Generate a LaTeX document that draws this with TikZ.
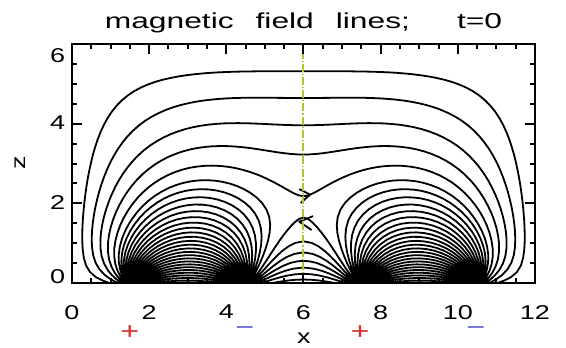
\documentclass[tikz,border=0pt]{standalone}
\usepackage{fontspec}
\setmainfont{Liberation Sans}
\newfontfamily\ticksfont[FakeStretch=1.35]{Liberation Sans}
\newfontfamily\titlefont[FakeStretch=1.47]{Liberation Sans}

\definecolor{plusred}{RGB}{215,50,50}
\definecolor{minusblue}{RGB}{100,100,205}
\definecolor{midgreen}{RGB}{180,195,45}

\ExplSyntaxOn
% field of four line sources (+ - + -) at x = 1.5, 4.5, 7.5, 10.5,
% sunk to depth d, between walls at x = 0, 12 and a lid at z = 6
\fp_const:Nn \c_fl_d_fp {0.12}
\fp_const:Nn \c_fl_lid_fp {12.12}
% spacing (angle at the source) and offset from the separatrix
\fp_const:Nn \c_fl_dover_fp {8 deg}
\fp_const:Nn \c_fl_offover_fp {0.13}
\fp_const:Nn \c_fl_darc_fp {5 deg}
\fp_const:Nn \c_fl_offarc_fp {1.2}
\fp_const:Nn \c_fl_dmid_fp {6 deg}
\fp_const:Nn \c_fl_offmid_fp {0.08}
\clist_map_inline:nn
  { x, z, sx, cx, e, ch, sh, p, r, t, q, gr, gi, bx, bz, sg, n, dx, dz,
    h, mx, mz, px, pz, top, ang, tx, lo, hi, flo, zx, phix, psix, phi }
  { \fp_new:c { l_fl_#1_fp } }
\int_new:N \l_fl_i_int
\bool_new:N \l_fl_go_bool
\tl_new:N \l_fl_line_tl
\tl_new:N \g_fl_paths_tl

\cs_new_protected:Npn \fl_pole:nn #1#2
  {
    \fp_set:Nn \l_fl_t_fp { \l_fl_p_fp - (#2) }
    \fp_set:Nn \l_fl_q_fp { (#1) / ( \l_fl_t_fp ^ 2 + \l_fl_r_fp ^ 2 ) }
    \fp_add:Nn \l_fl_gr_fp { \l_fl_q_fp * \l_fl_t_fp }
    \fp_sub:Nn \l_fl_gi_fp { \l_fl_q_fp * \l_fl_r_fp }
  }
\cs_new_protected:Npn \fl_row:n #1
  {
    \fp_set:Nn \l_fl_e_fp { exp ( pi * ( #1 ) / 12 ) }
    \fp_set:Nn \l_fl_ch_fp { ( \l_fl_e_fp + 1 / \l_fl_e_fp ) / 2 }
    \fp_set:Nn \l_fl_sh_fp { ( \l_fl_e_fp - 1 / \l_fl_e_fp ) / 2 }
    \fp_set:Nn \l_fl_p_fp { \l_fl_cx_fp * \l_fl_ch_fp }
    \fp_set:Nn \l_fl_r_fp { - \l_fl_sx_fp * \l_fl_sh_fp }
    \fp_zero:N \l_fl_gr_fp
    \fp_zero:N \l_fl_gi_fp
    \fl_pole:nn { 1 } { 0.92387953 }
    \fl_pole:nn { -1 } { 0.38268343 }
    \fl_pole:nn { 1 } { -0.38268343 }
    \fl_pole:nn { -1 } { -0.92387953 }
    \fp_sub:Nn \l_fl_bx_fp
      { \l_fl_sx_fp * \l_fl_ch_fp * \l_fl_gr_fp - \l_fl_cx_fp * \l_fl_sh_fp * \l_fl_gi_fp }
    \fp_add:Nn \l_fl_bz_fp
      { \l_fl_sx_fp * \l_fl_ch_fp * \l_fl_gi_fp + \l_fl_cx_fp * \l_fl_sh_fp * \l_fl_gr_fp }
  }
\cs_new_protected:Npn \fl_field:nn #1#2
  {
    \fp_set:Nn \l_fl_sx_fp { sin ( pi * ( #1 ) / 12 ) }
    \fp_set:Nn \l_fl_cx_fp { cos ( pi * ( #1 ) / 12 ) }
    \fp_zero:N \l_fl_bx_fp
    \fp_zero:N \l_fl_bz_fp
    \fl_row:n { ( #2 ) + \c_fl_d_fp }
    \fl_row:n { ( #2 ) - \c_fl_lid_fp }
  }
\cs_new_protected:Npn \fl_dir:nn #1#2
  {
    \fl_field:nn {#1} {#2}
    \fp_set:Nn \l_fl_n_fp { \l_fl_sg_fp / sqrt ( \l_fl_bx_fp ^ 2 + \l_fl_bz_fp ^ 2 ) }
    \fp_set:Nn \l_fl_dx_fp { \l_fl_n_fp * \l_fl_bx_fp }
    \fp_set:Nn \l_fl_dz_fp { \l_fl_n_fp * \l_fl_bz_fp }
  }
\cs_new:Npn \fl_pt:
  { \fp_eval:n { round ( \l_fl_x_fp , 3 ) } , \fp_eval:n { round ( \l_fl_z_fp , 3 ) } }

% follow a line from (#1,#2) until x = 6, the sink at x = #3, or too deep
\cs_new_protected:Npn \fl_trace:nnn #1#2#3
  {
    \fp_set:Nn \l_fl_x_fp {#1}
    \fp_set:Nn \l_fl_z_fp {#2}
    \fp_set:Nn \l_fl_tx_fp {#3}
    \fp_set_eq:NN \l_fl_top_fp \l_fl_z_fp
    \tl_put_right:Nx \l_fl_line_tl { -- ( \fl_pt: ) }
    \int_zero:N \l_fl_i_int
    \bool_set_true:N \l_fl_go_bool
    \bool_while_do:Nn \l_fl_go_bool
      {
        \int_incr:N \l_fl_i_int
        \fp_set:Nn \l_fl_h_fp
          {
            max ( 0.008 , min ( 0.2 , 0.3 * min (
              sqrt ( ( \l_fl_x_fp - 1.5 ) ^ 2 + ( \l_fl_z_fp + \c_fl_d_fp ) ^ 2 ) ,
              sqrt ( ( \l_fl_x_fp - 4.5 ) ^ 2 + ( \l_fl_z_fp + \c_fl_d_fp ) ^ 2 ) ,
              sqrt ( ( \l_fl_x_fp - 6 ) ^ 2 + ( \l_fl_z_fp - \l_fl_zx_fp ) ^ 2 ) ) ) )
          }
        \fl_dir:nn { \l_fl_x_fp } { \l_fl_z_fp }
        \fp_set:Nn \l_fl_mx_fp { \l_fl_x_fp + 0.5 * \l_fl_h_fp * \l_fl_dx_fp }
        \fp_set:Nn \l_fl_mz_fp { \l_fl_z_fp + 0.5 * \l_fl_h_fp * \l_fl_dz_fp }
        \fl_dir:nn { \l_fl_mx_fp } { \l_fl_mz_fp }
        \fp_set_eq:NN \l_fl_px_fp \l_fl_x_fp
        \fp_set_eq:NN \l_fl_pz_fp \l_fl_z_fp
        \fp_add:Nn \l_fl_x_fp { \l_fl_h_fp * \l_fl_dx_fp }
        \fp_add:Nn \l_fl_z_fp { \l_fl_h_fp * \l_fl_dz_fp }
        \fp_compare:nNnTF { \l_fl_x_fp } > { 6 }
          {
            \fp_set:Nn \l_fl_z_fp
              { \l_fl_pz_fp + ( \l_fl_z_fp - \l_fl_pz_fp ) * ( 6 - \l_fl_px_fp ) / ( \l_fl_x_fp - \l_fl_px_fp ) }
            \fp_set:Nn \l_fl_x_fp { 6 }
            \tl_put_right:Nx \l_fl_line_tl { -- ( \fl_pt: ) }
            \bool_set_false:N \l_fl_go_bool
          }
          {
            \fp_compare:nTF
              { ( \l_fl_x_fp - \l_fl_tx_fp ) ^ 2 + ( \l_fl_z_fp + \c_fl_d_fp ) ^ 2 < 0.0004 }
              {
                \fp_set:Nn \l_fl_ang_fp
                  { atan ( \l_fl_z_fp + \c_fl_d_fp , \l_fl_x_fp - \l_fl_tx_fp ) }
                \fp_set_eq:NN \l_fl_x_fp \l_fl_tx_fp
                \fp_set:Nn \l_fl_z_fp { - \c_fl_d_fp }
                \tl_put_right:Nx \l_fl_line_tl { -- ( \fl_pt: ) }
                \bool_set_false:N \l_fl_go_bool
              }
              {
                \tl_put_right:Nx \l_fl_line_tl { -- ( \fl_pt: ) }
                \fp_set:Nn \l_fl_top_fp { max ( \l_fl_top_fp , \l_fl_z_fp ) }
                \bool_lazy_or:nnT
                  { \fp_compare_p:nNn { \l_fl_z_fp } < { -1.5 } }
                  { \int_compare_p:nNn { \l_fl_i_int } > { 700 } }
                  { \bool_set_false:N \l_fl_go_bool }
              }
          }
      }
  }
% one line leaving the source at x = #1 under the angle #2
\cs_new_protected:Npn \fl_line:nN #1#2
  {
    \tl_set:Nx \l_fl_line_tl { ( #1 , \fp_eval:n { - \c_fl_d_fp } ) }
    \fl_trace:nnn
      { #1 + 0.015 * cos ( #2 ) }
      { - \c_fl_d_fp + 0.015 * sin ( #2 ) }
      { 6 - ( #1 ) }
    \fp_compare:nNnT { \l_fl_top_fp } > { 0 }
      { \tl_gput_right:NV \g_fl_paths_tl \l_fl_line_tl }
  }
% separatrix from the null to the source at x = #2, its angle there into #3
\cs_new_protected:Npn \fl_arm:nnN #1#2#3
  {
    \fl_field:nn { 5.99 } { \l_fl_zx_fp + ( #1 ) * 0.01 }
    \fp_set:Nn \l_fl_sg_fp { sign ( ( #1 ) * \l_fl_bz_fp - \l_fl_bx_fp ) }
    \tl_clear:N \l_fl_line_tl
    \fl_trace:nnn { 5.99 } { \l_fl_zx_fp + ( #1 ) * 0.01 } {#2}
    \fp_set_eq:NN #3 \l_fl_ang_fp
  }
\cs_new_protected:Npn \fl_compute:
  {
    \tl_gclear:N \g_fl_paths_tl
    % null point on the symmetry line x = 6
    \fp_set:Nn \l_fl_lo_fp { 0.5 }
    \fp_set:Nn \l_fl_hi_fp { 4 }
    \fl_field:nn { 6 } { \l_fl_lo_fp }
    \fp_set_eq:NN \l_fl_flo_fp \l_fl_bx_fp
    \prg_replicate:nn { 24 }
      {
        \fp_set:Nn \l_fl_zx_fp { ( \l_fl_lo_fp + \l_fl_hi_fp ) / 2 }
        \fl_field:nn { 6 } { \l_fl_zx_fp }
        \fp_compare:nNnTF { \l_fl_bx_fp * \l_fl_flo_fp } > { 0 }
          { \fp_set_eq:NN \l_fl_lo_fp \l_fl_zx_fp }
          { \fp_set_eq:NN \l_fl_hi_fp \l_fl_zx_fp }
      }
    \fl_arm:nnN { 1 } { 1.5 } \l_fl_phix_fp
    \fl_arm:nnN { -1 } { 4.5 } \l_fl_psix_fp
    % lines of the + source at 1.5: over the top, then to the - source at 4.5
    \fp_set:Nn \l_fl_sg_fp { 1 }
    \int_step_inline:nnn { 0 } { 4 }
      {
        \fp_set:Nn \l_fl_phi_fp { \l_fl_phix_fp + ( ##1 + \c_fl_offover_fp ) * \c_fl_dover_fp }
        \fp_compare:nNnT { \l_fl_phi_fp } < { 215 deg }
          { \fl_line:nN { 1.5 } \l_fl_phi_fp }
      }
    \int_step_inline:nnn { 0 } { 50 }
      {
        \fp_set:Nn \l_fl_phi_fp { \l_fl_phix_fp - ( ##1 + \c_fl_offarc_fp ) * \c_fl_darc_fp }
        \fp_compare:nNnT { \l_fl_phi_fp } > { -20 deg }
          { \fl_line:nN { 1.5 } \l_fl_phi_fp }
      }
    % lines under the null, followed back from the - source at 4.5
    \fp_set:Nn \l_fl_sg_fp { -1 }
    \int_step_inline:nnn { 0 } { 20 }
      {
        \fp_set:Nn \l_fl_phi_fp { \l_fl_psix_fp - ( ##1 + \c_fl_offmid_fp ) * \c_fl_dmid_fp }
        \fp_compare:nNnT { \l_fl_phi_fp } > { -40 deg }
          { \fl_line:nN { 4.5 } \l_fl_phi_fp }
      }
  }
\cs_new:Npn \FieldLines { \tl_use:N \g_fl_paths_tl }
\cs_new_eq:NN \ComputeFieldLines \fl_compute:
\ExplSyntaxOff

\begin{document}
\begin{tikzpicture}[x=19.29pt, y=19.917pt,
    fieldline/.style={line width=0.9pt, line join=round},
    axisline/.style={line width=1pt},
    ticklabel/.style={font=\ticksfont\fontsize{10}{10}\selectfont, inner sep=0pt},
    titletext/.style={font=\titlefont\fontsize{10.8}{12}\selectfont, inner sep=0pt},
    signmark/.style={font=\ticksfont\fontsize{12}{12}\selectfont, inner sep=0pt}]
  \useasboundingbox (-1.866,-1.607) rectangle (12.804,7.105);
  \ComputeFieldLines
  \edef\fieldpath{\noexpand\draw[fieldline] \FieldLines;}
  % field lines, right half by mirroring
  \begin{scope}
    \clip (0,0) rectangle (12,6);
    \fieldpath
    \begin{scope}[shift={(12,0)}, xscale=-1]
      \fieldpath
    \end{scope}
  \end{scope}
  % contour pieces left at the null
  \draw[fieldline] (5.89,2.36) -- (6.17,2.22) -- (5.93,2.01);
  \draw[fieldline] (6.25,1.68) -- (5.89,1.54) -- (6.21,1.33);
  % symmetry line
  \draw[midgreen, line width=1pt, dash pattern=on 4pt off 1pt on 0.6pt off 1pt] (6,0) -- (6,6);
  % frame and ticks
  \draw[axisline] (0,0) rectangle (12,6);
  \foreach \tk in {0,0.5,...,12} {
    \draw[axisline] (\tk,0) -- ++(0,0.126);
    \draw[axisline] (\tk,6) -- ++(0,-0.126);}
  \foreach \tk in {0,2,...,12} {
    \draw[axisline] (\tk,0) -- ++(0,0.251);
    \draw[axisline] (\tk,6) -- ++(0,-0.251);}
  \foreach \tk in {0,0.5,...,6} {
    \draw[axisline] (0,\tk) -- ++(0.13,0);
    \draw[axisline] (12,\tk) -- ++(-0.13,0);}
  \foreach \tk in {0,2,4,6} {
    \draw[axisline] (0,\tk) -- ++(0.26,0);
    \draw[axisline] (12,\tk) -- ++(-0.26,0);}
  % labels
  \foreach \tk in {0,2,...,12}
    \node[ticklabel] (xtick\tk) at (\tk,-0.73) {\tk};
  \foreach \tk/\zpos in {0/0.15,2/2.01,4/4.02,6/5.72}
    \node[ticklabel] (ztick\tk) at (-0.37,\zpos) {\tk};
  \node[ticklabel, rotate=90] (zlabel) at (-1.35,3.01) {z};
  \node[ticklabel] (xlabel) at (6.01,-1.38) {x};
  \node[titletext] (title) at (6,6.53)
    {magnetic\hspace{11pt}field\hspace{11pt}lines;\hspace{23.5pt}t=0};
  % polarity of the sources
  \node[signmark, plusred] (plusA) at (1.5,-1.25) {+};
  \node[signmark, minusblue] (minusA) at (4.48,-1.2) {\textminus};
  \node[signmark, plusred] (plusB) at (7.47,-1.25) {+};
  \node[signmark, minusblue] (minusB) at (10.47,-1.2) {\textminus};
\end{tikzpicture}
\end{document}
